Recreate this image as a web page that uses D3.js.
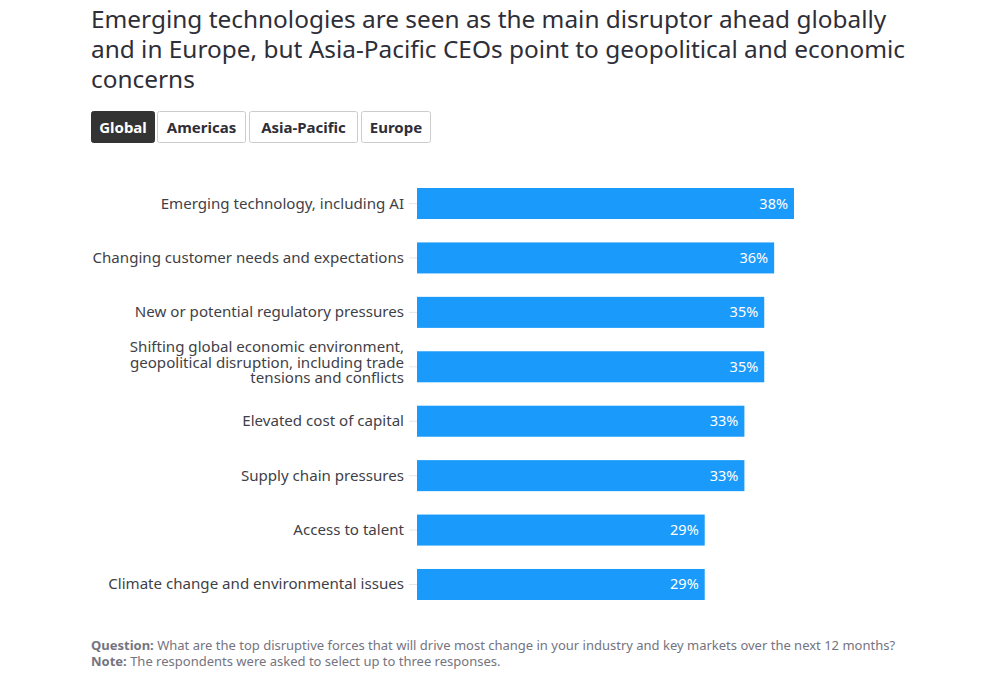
<!DOCTYPE html>
<html><head><meta charset="utf-8">
<script src="https://cdn.jsdelivr.net/npm/d3@7"></script>
<style>
body{margin:0;background:#fff;}
svg{display:block;}
</style></head>
<body><svg id="c" width="983" height="679"></svg>
<script>
const titleLines = ["Emerging technologies are seen as the main disruptor ahead globally","and in Europe, but Asia-Pacific CEOs point to geopolitical and economic","concerns"];
const tabs = ["Global","Americas","Asia-Pacific","Europe"];
const categories = [
 ["Emerging technology, including AI"],
 ["Changing customer needs and expectations"],
 ["New or potential regulatory pressures"],
 ["Shifting global economic environment,","geopolitical disruption, including trade","tensions and conflicts"],
 ["Elevated cost of capital"],
 ["Supply chain pressures"],
 ["Access to talent"],
 ["Climate change and environmental issues"]
];
const values = [38,36,35,35,33,33,29,29];
const notes = [["Question:"," What are the top disruptive forces that will drive most change in your industry and key markets over the next 12 months?"],["Note:"," The respondents were asked to select up to three responses."]];

const svg = d3.select("#c");
const FONT = "'Noto Sans', sans-serif";

// title
svg.append("g").selectAll("text").data(titleLines).join("text")
 .attr("x",91).attr("y",(d,i)=>28+i*30)
 .attr("font-family",FONT).attr("font-size",24.4).attr("fill","#2e2e38")
 .text(d=>d);

// tabs
const tabX=[91,157,249,361], tabW=[64,89,109,70];
const tg = svg.append("g").selectAll("g").data(tabs).join("g")
 .attr("transform",(d,i)=>`translate(${tabX[i]},111)`);
tg.append("rect").attr("x",0.5).attr("y",0.5).attr("width",(d,i)=>tabW[i]-1).attr("height",31).attr("rx",2)
 .attr("fill",(d,i)=>i===0?"#333333":"#fff").attr("stroke",(d,i)=>i===0?"#333333":"#cccccc");
tg.append("text").attr("x",(d,i)=>tabW[i]/2).attr("y",21.5).attr("text-anchor","middle")
 .attr("font-family",FONT).attr("font-weight","bold").attr("font-size",15)
 .attr("fill",(d,i)=>i===0?"#fff":"#2e2e38").text(d=>d);

// scales
const x = d3.scaleLinear().domain([0,38]).range([417,794]);
const y = d3.scaleBand().domain(d3.range(categories.length)).range([176.3,611.7]).paddingInner(0.43).paddingOuter(0.215);

// axis
const ax = svg.append("g").attr("transform","translate(417,0)")
 .call(d3.axisLeft(y).tickSize(8).tickPadding(5).tickFormat(""));
ax.select(".domain").remove();
ax.selectAll(".tick line").attr("stroke","#e6e6e6");

// labels
const lab = svg.append("g").selectAll("text").data(categories).join("text")
 .attr("text-anchor","end").attr("font-family",FONT).attr("font-size",15.1).attr("fill","#3f3f48")
 .attr("transform",(d,i)=>`translate(404,${y(i)+y.bandwidth()/2 - (d.length>1?4:0)})`);
lab.selectAll("tspan").data(d=>d.map((t,j)=>({t,j,n:d.length}))).join("tspan")
 .attr("x",0).attr("y",d=>(d.j-(d.n-1)/2)*15.5+5).text(d=>d.t);

// bars
svg.append("g").selectAll("rect").data(values).join("rect")
 .attr("x",x(0)).attr("y",(d,i)=>y(i)).attr("width",d=>x(d)-x(0)).attr("height",y.bandwidth())
 .attr("fill","#1a9afa");
svg.append("g").selectAll("text").data(values).join("text")
 .attr("x",d=>x(d)-6).attr("y",(d,i)=>y(i)+y.bandwidth()/2+5).attr("text-anchor","end")
 .attr("font-family",FONT).attr("font-size",14.5).attr("fill","#fff").text(d=>d+"%");

// notes
const nt = svg.append("g").selectAll("text").data(notes).join("text")
 .attr("x",91).attr("y",(d,i)=>650+i*15.5).attr("font-family",FONT).attr("font-size",13).attr("fill","#747480");
nt.append("tspan").attr("font-weight","bold").text(d=>d[0]);
nt.append("tspan").text(d=>d[1]);
</script></body></html>
